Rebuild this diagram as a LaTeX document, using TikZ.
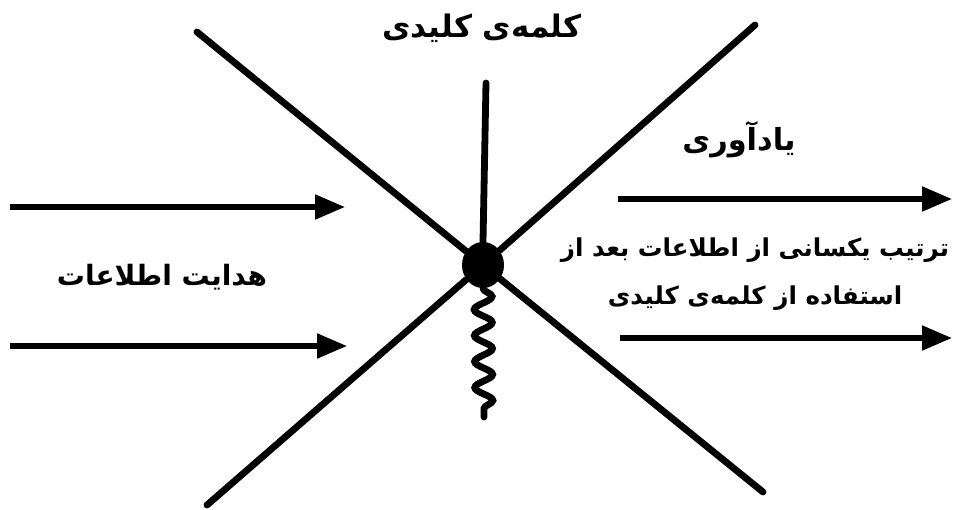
\documentclass[tikz,border=0pt]{standalone}
\usepackage{fontspec}
\usetikzlibrary{arrows.meta,shapes.geometric,decorations.pathmorphing}
\newfontfamily\arabicfont[Script=Arabic]{DejaVu Sans}
\TeXXeTstate=1

\begin{document}
\begin{tikzpicture}[x=0.5pt, y=-0.5pt,
  lbl/.style={font=\fontsize{12.3}{24}\selectfont\arabicfont\bfseries, inner sep=0pt, align=center},
  big/.style={lbl, font=\fontsize{15.5}{20}\selectfont\arabicfont\bfseries},
  ln/.style={line width=3.4pt, line cap=round},
  arr/.style={-{Triangle[length=15pt, width=12pt]}, line width=2.6pt},
  spring/.style={line width=3.4pt, line cap=round, decorate,
                 decoration={snake, segment length=13pt, amplitude=4.5pt}}]
\useasboundingbox (0,0) rectangle (953,509);

% the crossing
\node[ellipse, fill, minimum width=21pt, minimum height=23pt, inner sep=0pt] (dot) at (483,265) {};
\coordinate (tl) at (197,32);
\coordinate (br) at (763,492);
\coordinate (tr) at (755,25);
\coordinate (bl) at (207,505);
\coordinate (vtop) at (486,83);
\coordinate (sprend) at (484,417);

\draw[ln] (tl) -- (dot) -- (br);
\draw[ln] (tr) -- (dot) -- (bl);
\draw[ln] (vtop) -- (dot.north);
\draw[spring] (dot.south) -- (sprend);

% labels
\node[big] (kw) at (482,28) {\beginR کلمه‌ی کلیدی\endR};
\node[big, font=\fontsize{15.2}{20}\selectfont\arabicfont\bfseries] (rem) at (739,140) {\beginR یادآوری\endR};
\node[lbl] (same) at (755,274) {\beginR ترتیب یکسانی از اطلاعات بعد از\endR\\
  \beginR استفاده از کلمه‌ی کلیدی\endR};
\node[big, font=\fontsize{14}{20}\selectfont\arabicfont\bfseries] (guide) at (162,277) {\beginR هدایت اطلاعات\endR};

% arrows
\coordinate (a1s) at (10,207);  \coordinate (a1e) at (345,207);
\coordinate (a2s) at (10,346);  \coordinate (a2e) at (347,346);
\coordinate (a3s) at (618,199); \coordinate (a3e) at (952,199);
\coordinate (a4s) at (620,338); \coordinate (a4e) at (952,338);
\draw[arr] (a1s) -- (a1e);
\draw[arr] (a2s) -- (a2e);
\draw[arr] (a3s) -- (a3e);
\draw[arr] (a4s) -- (a4e);
\end{tikzpicture}
\end{document}
